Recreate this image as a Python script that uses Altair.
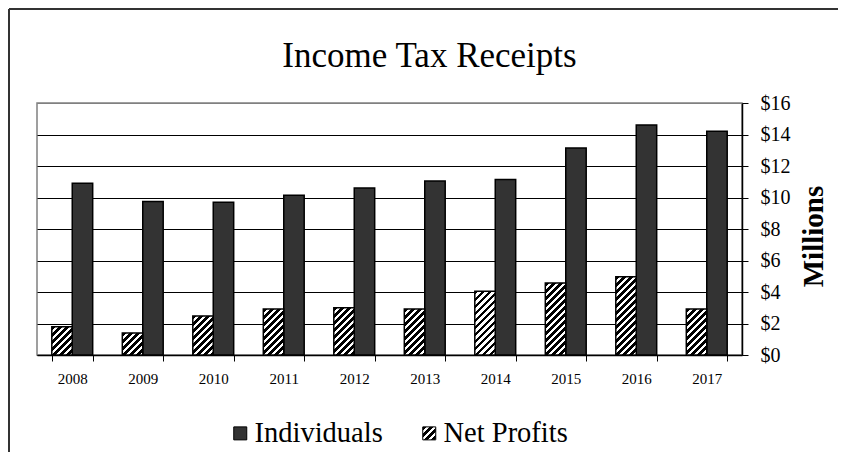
import json
import altair as alt
import pandas as pd

# ---- data ----
years = ["2008", "2009", "2010", "2011", "2012", "2013", "2014", "2015", "2016", "2017"]
individuals = [10.9, 9.75, 9.7, 10.15, 10.6, 11.05, 11.15, 13.15, 14.6, 14.2]
net_profits = [1.8, 1.4, 2.48, 2.92, 3.0, 2.92, 4.05, 4.57, 4.97, 2.92]
series_names = ["Individuals", "Net Profits"]
y_ticks = [0, 2, 4, 6, 8, 10, 12, 14, 16]

rows = []
for y, a, b in zip(years, individuals, net_profits):
    rows.append({"year": y, "series": "Individuals", "value": a})
    rows.append({"year": y, "series": "Net Profits", "value": b})
df = pd.DataFrame(rows)

FONT = "Liberation Serif"
PLOT_W, PLOT_H = 705, 252
Y_MAX = 16
BAND_PAD = 0.42
bar_w = PLOT_W / len(years) * (1 - BAND_PAD) / 2


def hatch(w, h, period=7.0, black=0.55):
    """Diagonal '/' stripes as a hard-stop linear gradient (bbox units)."""
    total = w + h
    lam = total / (w * w + h * h)
    stops = []
    pos = 0.0
    while pos < total - 1e-9:
        b_end = min(pos + period * black, total)
        w_end = min(pos + period, total)
        stops += [
            {"offset": round(pos / total, 5), "color": "black"},
            {"offset": round(b_end / total, 5), "color": "black"},
            {"offset": round(b_end / total, 5), "color": "white"},
            {"offset": round(w_end / total, 5), "color": "white"},
        ]
        pos += period
    return {"gradient": "linear", "x1": 0, "y1": 0,
            "x2": round(lam * w, 5), "y2": round(lam * h, 5), "stops": stops}


conditions = [
    {"test": f"datum.series === 'Net Profits' && datum.year === '{y}'",
     "value": hatch(bar_w, v * PLOT_H / Y_MAX)}
    for y, v in zip(years, net_profits)
]

# legend swatch for Net Profits: square hatch passed through the scale range
legend_hatch = {"expr": json.dumps(hatch(13, 13))}

legend = alt.Legend(
    title=None, orient="none", direction="horizontal",
    legendX=189, legendY=316, padding=0,
    symbolType="square", symbolSize=169, symbolStrokeColor="black",
    symbolStrokeWidth=1, labelFontSize=28.5, labelFont=FONT,
    labelColor="black", labelOffset=0, columnPadding=32,
)

bars = alt.Chart(df).mark_bar(stroke="black", strokeWidth=1.5).encode(
    x=alt.X("year:N", sort=years,
            scale=alt.Scale(paddingInner=BAND_PAD, paddingOuter=BAND_PAD / 2),
            axis=alt.Axis(title=None, labelAngle=0, labelFontSize=15,
                          labelFont=FONT, labelColor="black",
                          tickBand="extent", tickSize=6, labelPadding=10,
                          domainColor="black", domainWidth=1.5,
                          tickColor="black", tickWidth=1, grid=False)),
    xOffset=alt.XOffset("series:N", scale=alt.Scale(domain=["Net Profits", "Individuals"])),
    y=alt.Y("value:Q", scale=alt.Scale(domain=[0, Y_MAX]),
            axis=alt.Axis(orient="right", values=y_ticks, format="$.0f",
                          title="Millions", titleFontSize=29,
                          titleFont=FONT, titleFontWeight="bold",
                          titleColor="black", titleAngle=270, titleX=71,
                          titleY=133, titleAlign="center",
                          titleBaseline="middle",
                          labelFontSize=20, labelFont=FONT,
                          labelColor="black", labelPadding=12, tickSize=6,
                          tickColor="black", domainColor="black",
                          domainWidth=1.5,
                          gridColor={"condition": {"test": "datum.value === 16",
                                                   "value": "#808080"},
                                     "value": "black"},
                          gridWidth=1)),
    fill=alt.Fill("series:N",
                  scale=alt.Scale(domain=series_names, range=["#333333", legend_hatch]),
                  legend=legend, condition=conditions),
)

one = alt.Data(values=[{"k": 1}])
frame_left = alt.Chart(one).mark_rule(stroke="#333333", strokeWidth=2).encode(
    x=alt.value(-28), y=alt.value(-94), y2=alt.value(400)
)
frame_top = alt.Chart(one).mark_rule(stroke="#333333", strokeWidth=2).encode(
    x=alt.value(-28), x2=alt.value(900), y=alt.value(-94)
)

chart = alt.layer(frame_left, frame_top, bars).properties(
    width=PLOT_W, height=PLOT_H,
    autosize=alt.AutoSizeParams(type="none"),
    padding={"left": 29, "top": 95, "right": 96, "bottom": 97},
    title=alt.TitleParams("Income Tax Receipts", fontSize=35,
                          font=FONT, fontWeight="normal",
                          color="black", anchor="middle", frame="group",
                          dx=40, dy=94, offset=0, baseline="alphabetic"),
).configure(
    background="white", font=FONT
).configure_view(
    stroke="#808080", strokeWidth=1.5
).configure_axis(
    labelFont=FONT, titleFont=FONT
).configure_legend(
    labelFont=FONT
)

chart.save("out.html", embed_options={"renderer": "svg", "actions": False})
